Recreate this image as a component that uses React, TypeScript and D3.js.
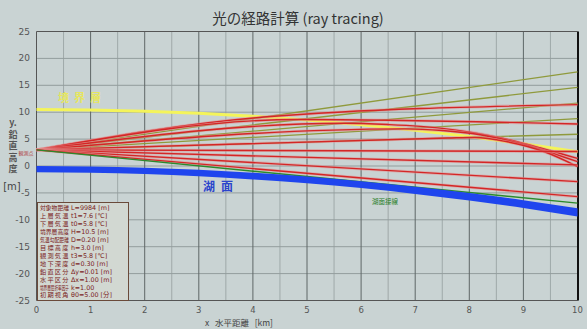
import * as d3 from "d3";

const W = 587;
const H = 329;
const margin = { left: 36.5, right: 9.5, top: 31.5, bottom: 28.5 };

// x: horizontal distance [km]
const distKm = [0, 1, 2, 3, 4, 5, 6, 7, 8, 9, 10];
const xTicks = [0, 1, 2, 3, 4, 5, 6, 7, 8, 9, 10];
const xMinor = [0.5, 1.5, 2.5, 3.5, 4.5, 5.5, 6.5, 7.5, 8.5, 9.5];
const yTicks = [-25, -20, -15, -10, -5, 0, 5, 10, 15, 20, 25];

// lake surface (band) and boundary layer
const lakeTop = [0, -0.08, -0.31, -0.71, -1.26, -1.96, -2.83, -3.85, -5.02, -6.36, -7.85];
const lakeBottom = [-1.15, -1.25, -1.5, -1.9, -2.5, -3.2, -4.1, -5.2, -6.4, -7.8, -9.4];
const boundaryLayer = [10.5, 10.42, 10.19, 9.79, 9.24, 8.54, 7.67, 6.65, 5.48, 4.14, 2.65];

// straight (unrefracted) sight lines, end heights at x = 10 km
const straightEnds = [5.9, 8.8, 11.7, 14.6, 17.5];

// refracted rays [km, m]
const ray5: [number, number][] = [[0, 3], [4.2, 9.1], [10, 11.4]];
const ray4: [number, number][] = [[0, 3], [4.85, 8.65], [10, 7.8]];
const ray3: [number, number][] = [[0, 3], [5.7, 7.95], [6.5, 7.7], [7.5, 7.0], [8.5, 5.4], [9.3, 3.4], [10, 1.4]];
const ray2: [number, number][] = [[0, 3], [6.8, 6.9], [7.5, 6.6], [8.2, 5.8], [9, 4.0], [10, 0.8]];
const ray1: [number, number][] = [[0, 3], [7.6, 5.2], [8.1, 5.3], [8.7, 4.5], [9.4, 2.6], [10, -0.1]];
const ray0: [number, number][] = [[0, 3], [10, 2.7]];
const rayM1: [number, number][] = [[0, 3], [10, 0.2]];
const rayM2: [number, number][] = [[0, 3], [10, -2.9]];
const rayM3: [number, number][] = [[0, 3], [10, -5.7]];
const tangentLine: [number, number][] = [[0, 3], [10, -6.9]];

const legendLabels = [
  "対象物距離", "上層気温", "下層気温", "境界層高度", "気温勾配距離", "目標高度",
  "観測気温", "地下深度", "鉛直区分", "水平区分", "境界層屈折率因子", "初期視角",
];
const legendValues = [
  "L=9984 [m]", "t1=7.6 [℃]", "t0=5.8 [℃]", "H=10.5 [m]", "D=0.20 [m]", "h=3.0 [m]",
  "t3=5.8 [℃]", "d=0.30 [m]", "Δy=0.01 [m]", "Δx=1.00 [m]", "k=1.00", "θ0=5.00 [分]",
];

const yAxisChars = ["y.", "鉛", "直", "高", "度"];

const FONT = "'DejaVu Sans', 'Noto Sans CJK JP', sans-serif";
const JFONT = "'Noto Sans CJK JP', 'DejaVu Sans', sans-serif";

const LABEL_FS = 6.2;
const LABEL_W = 29;

export default function App() {
  const x = d3.scaleLinear().domain([0, 10]).range([margin.left, W - margin.right]);
  const y = d3.scaleLinear().domain([-25, 25]).range([H - margin.bottom, margin.top]);

  const line = d3
    .line<[number, number]>()
    .x((d) => x(d[0]))
    .y((d) => y(d[1]))
    .curve(d3.curveMonotoneX);

  const seriesLine = d3
    .line<number>()
    .x((_, i) => x(distKm[i]))
    .y((d) => y(d))
    .curve(d3.curveMonotoneX);

  const lakeArea = d3
    .area<number>()
    .x((_, i) => x(distKm[i]))
    .y0((_, i) => y(lakeBottom[i]))
    .y1((_, i) => y(lakeTop[i]))
    .curve(d3.curveMonotoneX);

  const redRays = [ray5, ray4, ray3, ray2, ray1, ray0, rayM1, rayM2, rayM3];

  const x0 = x(0), x1 = x(10), yTop = y(25), yBot = y(-25);

  return (
    <svg width={W} height={H} style={{ display: "block", background: "#c9d3d3" }}>
      <style>{`body{margin:0}`}</style>
      <rect x={0} y={0} width={W} height={H} fill="#c9d3d3" />

      {/* title */}
      <text x={298} y={24} textAnchor="middle" fontSize={14.5} fill="#333" fontFamily={JFONT}>
        光の経路計算 (ray tracing)
      </text>

      {/* grid */}
      {xMinor.map((v) => (
        <line key={"mx" + v} x1={x(v)} x2={x(v)} y1={yTop} y2={yBot} stroke="#9fa9a9" strokeWidth={1} />
      ))}
      {yTicks.slice(1, -1).map((v) => (
        <line key={"gy" + v} x1={x0} x2={x1} y1={y(v)} y2={y(v)} stroke="#939d9d" strokeWidth={1} />
      ))}
      {xTicks.slice(1, -1).map((v) => (
        <line key={"gx" + v} x1={x(v)} x2={x(v)} y1={yTop} y2={yBot} stroke="#5f6767" strokeWidth={1} />
      ))}
      <line x1={x0} x2={x1} y1={yTop} y2={yTop} stroke="#555" />
      <line x1={x0} x2={x1} y1={yBot} y2={yBot} stroke="#555" />
      <line x1={x0} x2={x0} y1={yTop} y2={yBot} stroke="#555" />
      <line x1={x1 + 0.5} x2={x1 + 0.5} y1={yTop} y2={yBot} stroke="#111" strokeWidth={2} />

      {/* tick labels */}
      {yTicks.map((v) => (
        <text key={"ty" + v} x={30} y={y(v) + 3} textAnchor="end" fontSize={9} fill="#555" fontFamily={FONT}>
          {v}
        </text>
      ))}
      {xTicks.map((v) => (
        <text key={"tx" + v} x={x(v)} y={313} textAnchor="middle" fontSize={8.5} fill="#555" fontFamily={FONT}>
          {v}
        </text>
      ))}
      <text x={205} y={325.5} fontSize={8.5} fill="#444" fontFamily={JFONT} style={{ whiteSpace: "pre" }}>
        {"x   水平距離   [km]"}
      </text>

      {/* y axis title */}
      {yAxisChars.map((c, i) => (
        <text key={"ya" + i} x={13} y={126 + i * 11.5} textAnchor="middle" fontSize={9} fontWeight="bold" fill="#555" fontFamily={JFONT}>
          {c}
        </text>
      ))}
      <text x={12} y={190} textAnchor="middle" fontSize={10} fill="#444" fontFamily={FONT}>
        [m]
      </text>
      <text x={26} y={155} textAnchor="middle" fontSize={5} fill="#b04040" fontFamily={JFONT}>
        観測点
      </text>

      {/* boundary layer */}
      <path d={seriesLine(boundaryLayer) || ""} fill="none" stroke="#f4f45a" strokeWidth={3} />
      <text x={82} y={102} textAnchor="middle" fontSize={11} fontWeight="bold" fill="#e6e65e" letterSpacing={5} fontFamily={JFONT}>
        境界層
      </text>

      {/* straight sight lines */}
      {straightEnds.map((e) => (
        <path key={"s" + e} d={line([[0, 3], [10, e]]) || ""} fill="none" stroke="#8f9a3c" strokeWidth={1.3} />
      ))}

      {/* refracted rays */}
      {redRays.map((r, i) => (
        <g key={"r" + i}>
          <path d={line(r) || ""} fill="none" stroke="#e49090" strokeWidth={3} opacity={0.55} />
          <path d={line(r) || ""} fill="none" stroke="#d42626" strokeWidth={1.4} />
        </g>
      ))}

      {/* tangent to lake */}
      <path d={line(tangentLine) || ""} fill="none" stroke="#2c8a2c" strokeWidth={1.4} />
      <text x={372} y={204} fontSize={6.5} fill="#2a802a" fontFamily={JFONT}>
        湖面接線
      </text>

      {/* lake */}
      <path d={lakeArea(lakeTop) || ""} fill="#1f45ee" />
      <text x={221} y={191} textAnchor="middle" fontSize={12} fontWeight="bold" fill="#2a44cc" letterSpacing={6} fontFamily={JFONT}>
        湖面
      </text>

      {/* parameter box */}
      <rect x={37.5} y={202.5} width={91} height={98} fill="#d2d8d2" stroke="#6a4a3a" strokeWidth={1} />
      {legendLabels.map((l, i) => {
        const ty = 210 + i * 7.95;
        const natural = l.length * LABEL_FS;
        const squeeze = natural > LABEL_W;
        const sx = squeeze ? LABEL_W / natural : 1;
        const spacing = squeeze ? 0 : (LABEL_W - natural) / (l.length - 0.5);
        return (
          <g key={"lg" + i}>
            <text
              transform={`translate(40,${ty}) scale(${sx},1)`}
              fontSize={LABEL_FS}
              fill="#7a2222"
              fontFamily={JFONT}
              letterSpacing={spacing}
            >
              {l}
            </text>
            <text x={71} y={ty} fontSize={6.4} fill="#7a2222" fontFamily={FONT}>
              {legendValues[i]}
            </text>
          </g>
        );
      })}
    </svg>
  );
}
